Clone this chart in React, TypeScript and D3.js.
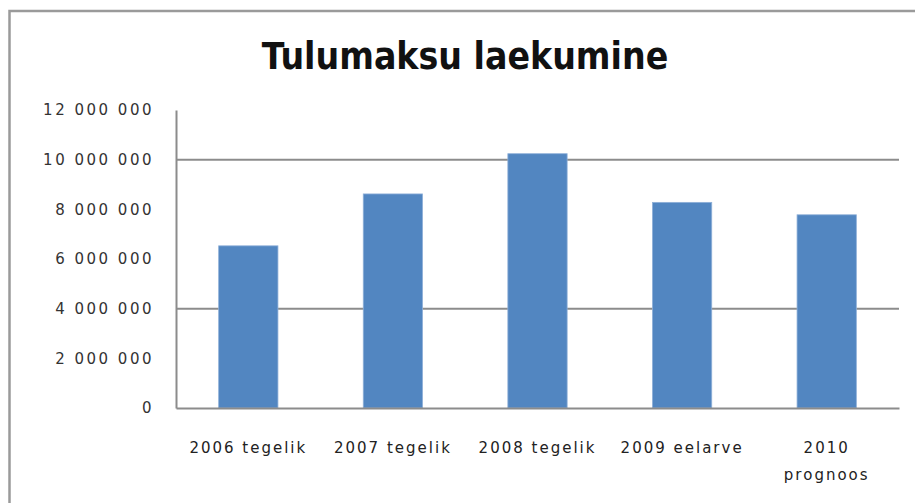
import { useEffect, useRef } from "react";
import * as d3 from "d3";

const categories = ["2006 tegelik", "2007 tegelik", "2008 tegelik", "2009 eelarve", "2010 prognoos"];
const values = [6530000, 8620000, 10240000, 8280000, 7780000];
const yTicks = [0, 2000000, 4000000, 6000000, 8000000, 10000000, 12000000];
const gridValues = [4000000, 10000000];

const TITLE_FONT = "'DejaVu Sans Condensed', sans-serif";
const FONT = "'DejaVu Sans', sans-serif";

const fmt = (v: number) => d3.format(",")(v).replace(/,/g, " ");

function App() {
  const ref = useRef<SVGSVGElement>(null);

  useEffect(() => {
    const W = 915, H = 503;
    const margin = { top: 110, right: 16, bottom: 95, left: 176 };
    const width = W - margin.left - margin.right;
    const height = H - margin.top - margin.bottom;

    const root = d3.select(ref.current);
    root.selectAll("*").remove();

    // outer chart border
    root
      .append("rect")
      .attr("x", 9.5)
      .attr("y", 11)
      .attr("width", W + 20)
      .attr("height", H + 20)
      .attr("fill", "#fff")
      .attr("stroke", "#9a9a9a")
      .attr("stroke-width", 2.5);

    root
      .append("text")
      .attr("x", 465)
      .attr("y", 69)
      .attr("text-anchor", "middle")
      .style("font-family", TITLE_FONT)
      .style("font-weight", "bold")
      .style("font-size", "37px")
      .attr("fill", "#111")
      .text("Tulumaksu laekumine");

    const svg = root.append("g").attr("transform", `translate(${margin.left},${margin.top})`);

    const x = d3.scaleBand().domain(categories).range([0, width]).paddingInner(0.59).paddingOuter(0.295);
    const y = d3.scaleLinear().domain([0, 12000000]).range([height, 0]);

    // gridlines
    svg
      .selectAll("line.grid")
      .data(gridValues)
      .join("line")
      .attr("class", "grid")
      .attr("x1", 0)
      .attr("x2", width)
      .attr("y1", (d) => y(d))
      .attr("y2", (d) => y(d))
      .attr("stroke", "#8c8c8c")
      .attr("stroke-width", 2);

    // bars
    svg
      .selectAll("rect.bar")
      .data(values)
      .join("rect")
      .attr("class", "bar")
      .attr("x", (_, i) => x(categories[i])!)
      .attr("y", (d) => y(d))
      .attr("width", x.bandwidth())
      .attr("height", (d) => height - y(d))
      .attr("fill", "#5286c1")
      .attr("stroke", "#8fb0d8")
      .attr("stroke-width", 0.8);

    // y axis
    const yAxis = svg
      .append("g")
      .call(d3.axisLeft(y).tickValues(yTicks).tickSize(0).tickPadding(22).tickFormat((d) => fmt(+d)));
    yAxis.select(".domain").attr("stroke", "#8c8c8c").attr("stroke-width", 2);
    yAxis
      .selectAll("text")
      .style("font-family", FONT)
      .style("font-size", "15px")
      .style("letter-spacing", "2.5px")
      .attr("fill", "#333");

    // x axis
    const xAxis = svg
      .append("g")
      .attr("transform", `translate(0,${height})`)
      .call(d3.axisBottom(x).tickSize(0).tickPadding(0).tickFormat(() => ""));
    xAxis.select(".domain").attr("stroke", "#8c8c8c").attr("stroke-width", 2);

    xAxis
      .selectAll(".tick")
      .append("text")
      .style("font-family", FONT)
      .style("font-size", "15px")
      .style("letter-spacing", "2px")
      .attr("fill", "#222")
      .attr("text-anchor", "middle")
      .each(function (d) {
        const t = d3.select(this);
        const label = String(d);
        const parts = label.startsWith("2010") ? label.split(" ") : [label];
        parts.forEach((p, i) => {
          t.append("tspan").attr("x", 0).attr("y", 45 + i * 27).text(p);
        });
      });
  }, []);

  return <svg ref={ref} width={915} height={503} style={{ position: "absolute", left: 0, top: 0 }} />;
}

export default App;
